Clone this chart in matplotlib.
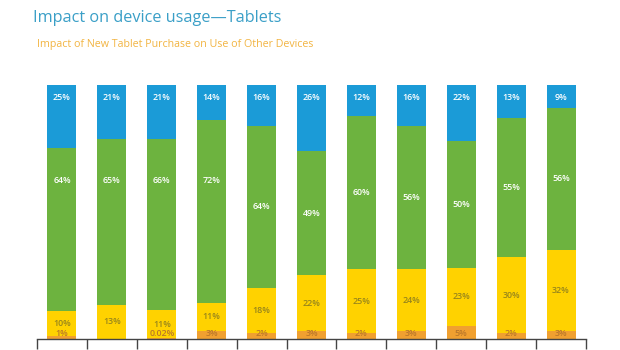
import numpy as np
import matplotlib.pyplot as plt

# values (percent of respondents), bottom to top
orange = [1, 0, 0.02, 3, 2, 3, 2, 3, 5, 2, 3]
yellow = [10, 13, 11, 11, 18, 22, 25, 24, 23, 30, 32]
green = [64, 65, 66, 72, 64, 49, 60, 56, 50, 55, 56]
blue = [25, 21, 21, 14, 16, 26, 12, 16, 22, 13, 9]

orange_lbl = ["1%", "", "0.02%", "3%", "2%", "3%", "2%", "3%", "5%", "2%", "3%"]

segments = [orange, yellow, green, blue]
colors = ["#f0a030", "#ffd200", "#6db33f", "#1b9bd7"]

plt.rcParams["font.family"] = ["Open Sans", "DejaVu Sans"]

fig = plt.figure(figsize=(6.2, 3.5), dpi=100)
ax = fig.add_axes([37 / 620, 11.5 / 350, 549 / 620, 253.5 / 350])

# each bar drawn as a 100% stack
data = np.array(segments, dtype=float)
totals = data.sum(axis=0)
shares = data / totals * 100
x = np.arange(len(blue))

bottom = np.zeros(len(x))
for vals, c in zip(shares, colors):
    ax.bar(x, vals, bottom=bottom, width=0.58, color=c, linewidth=0)
    bottom += vals

lbl_kw = dict(ha="center", va="center", fontsize=6.4, fontweight="semibold")
for i in range(len(x)):
    o, y, g, b = shares[:, i]
    # blue labels sit near the top of each bar
    ax.text(i, 95, f"{blue[i]}%", color="white", **lbl_kw)
    gy = o + y + g / 2
    if i < 4:
        gy = 62.5
    ax.text(i, gy, f"{green[i]}%", color="white", **lbl_kw)
    ax.text(i, o + y / 2, f"{yellow[i]}%", color="#97851c", **lbl_kw)
    if orange_lbl[i]:
        ax.text(i, 2, orange_lbl[i], color="#b9772a", **lbl_kw)

ax.set_xlim(-0.5, len(x) - 0.5)
ax.set_ylim(0, 100)
for s in ["top", "right", "left"]:
    ax.spines[s].set_visible(False)
ax.spines["bottom"].set_color("#444444")
ax.spines["bottom"].set_linewidth(1)
ax.set_yticks([])
ax.set_xticks(np.arange(len(x) + 1) - 0.5)
ax.set_xticklabels([])
ax.tick_params(axis="x", direction="out", length=7, width=1, color="#444444")

fig.text(33 / 620, 1 - 18 / 350, "Impact on device usage\u2014Tablets",
         color="#3a9fc7", fontsize=11.7, va="center", ha="left")
fig.text(37 / 620, 1 - 45 / 350, "Impact of New Tablet Purchase on Use of Other Devices",
         color="#f2b441", fontsize=7.7, va="center", ha="left")

fig.savefig("out.png", dpi=100)
